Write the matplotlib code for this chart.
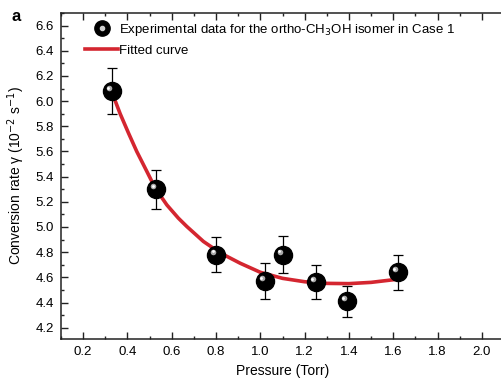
import matplotlib
matplotlib.use("Agg")
import matplotlib.pyplot as plt
import matplotlib.transforms as mtransforms
from matplotlib.ticker import MultipleLocator
from matplotlib.lines import Line2D
from matplotlib.legend_handler import HandlerTuple

plt.rcParams['font.family'] = ['Liberation Sans', 'DejaVu Sans']

# experimental points
pressure = [0.33, 0.53, 0.80, 1.02, 1.10, 1.25, 1.39, 1.62]
rate = [6.08, 5.30, 4.78, 4.57, 4.78, 4.56, 4.41, 4.64]
rate_err = [0.18, 0.155, 0.14, 0.14, 0.145, 0.135, 0.125, 0.14]

# fitted curve
fit_p = [0.33, 0.367, 0.405, 0.442, 0.488, 0.525, 0.578, 0.630, 0.668,
         0.743, 0.818, 0.909, 1.00, 1.10, 1.20, 1.30, 1.40, 1.50, 1.62]
fit_r = [6.07, 5.90, 5.745, 5.60, 5.44, 5.31, 5.175, 5.07, 5.004,
         4.885, 4.795, 4.712, 4.64, 4.592, 4.565, 4.552, 4.55, 4.56, 4.585]

fig = plt.figure(figsize=(5.02, 3.79), dpi=100)
ax = fig.add_axes([0.1215, 0.1055, 0.8825, 0.8602])

red = '#d42630'
ax.plot(fit_p, fit_r, color=red, lw=2.6, zorder=2,
        solid_capstyle='round', solid_joinstyle='round')
ax.errorbar(pressure, rate, yerr=rate_err, fmt='none', ecolor='black',
            elinewidth=0.9, capsize=3.5, capthick=0.9, zorder=3)
ax.plot(pressure, rate, 'o', ms=13, color='black', mec='black', zorder=4)
hl = mtransforms.offset_copy(ax.transData, fig=fig, x=-3, y=3, units='dots')
ax.plot(pressure, rate, 'o', ms=4, color='#bdbdbd', mec='none', alpha=0.9,
        transform=hl, zorder=5)
hl2 = mtransforms.offset_copy(ax.transData, fig=fig, x=-3.5, y=3.5, units='dots')
ax.plot(pressure, rate, 'o', ms=2, color='white', mec='none',
        transform=hl2, zorder=6)

ax.set_xlim(0.1, 2.1)
ax.set_ylim(4.11, 6.7)
ax.xaxis.set_minor_locator(MultipleLocator(0.1))
ax.yaxis.set_minor_locator(MultipleLocator(0.1))
ax.set_xticks([0.2, 0.4, 0.6, 0.8, 1.0, 1.2, 1.4, 1.6, 1.8, 2.0])
ax.set_yticks([4.2, 4.4, 4.6, 4.8, 5.0, 5.2, 5.4, 5.6, 5.8, 6.0, 6.2, 6.4, 6.6])
ax.tick_params(which='both', direction='in', top=True, labelsize=9.5,
               width=1, color='#222222')
ax.tick_params(which='major', length=5, pad=5)
ax.tick_params(which='minor', length=2.5)
for s in ax.spines.values():
    s.set_linewidth(1.1)
    s.set_color('#222222')

ax.set_xlabel('Pressure (Torr)', fontsize=10, labelpad=4)
ax.set_ylabel('Conversion rate \u03b3 (10$^{-2}$ s$^{-1}$)', fontsize=10, labelpad=6)

dot = Line2D([], [], marker='o', ms=11, color='black', ls='none')
dot_hl = Line2D([], [], marker='o', ms=3, color='#cccccc', ls='none')
fit_line = Line2D([], [], color=red, lw=2.6)
ax.legend([(dot, dot_hl), fit_line],
          ['Experimental data for the ortho-CH$_3$OH isomer in Case 1', 'Fitted curve'],
          handler_map={tuple: HandlerTuple(ndivide=1)},
          loc='upper left', bbox_to_anchor=(0.028, 1.01), frameon=False,
          fontsize=9.5, handlelength=2.5, handletextpad=0.05, labelspacing=0.55)

fig.text(0.022, 0.975, 'a', fontsize=12, fontweight='bold', va='top')

fig.savefig('out.png', dpi=100)
